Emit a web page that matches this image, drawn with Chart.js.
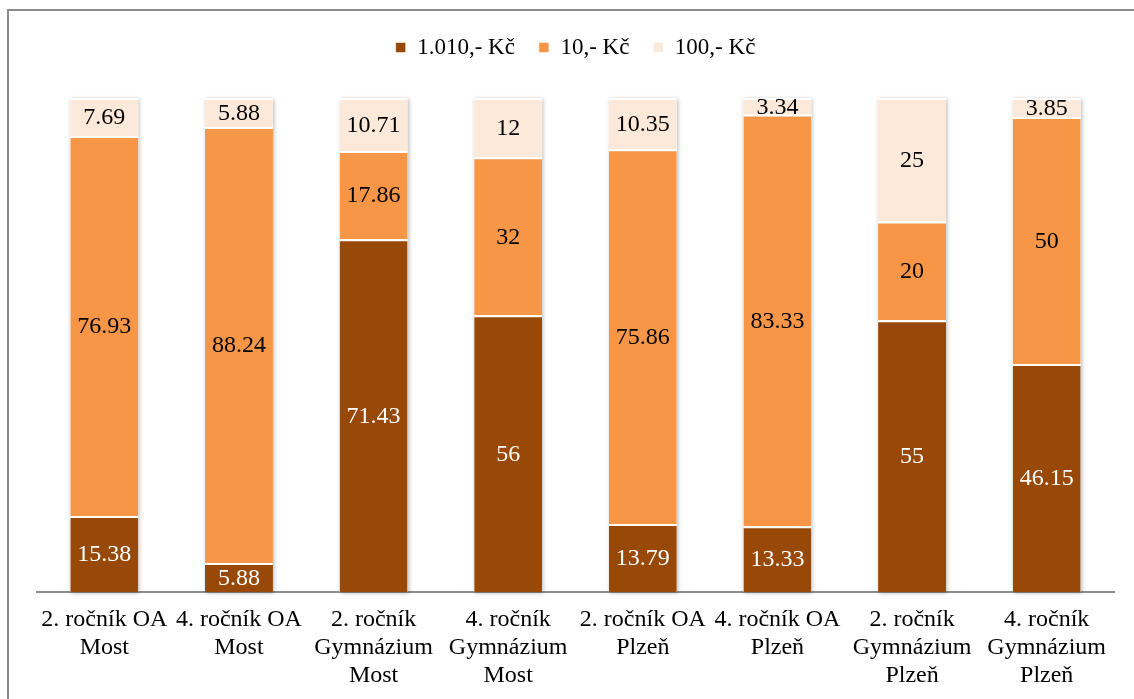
<!DOCTYPE html>
<html>
<head>
<meta charset="utf-8">
<script src="https://cdn.jsdelivr.net/npm/chart.js@4"></script>
<style>
  html, body { margin: 0; padding: 0; background: #fff; overflow: hidden; }
  #wrap { position: relative; width: 1134px; height: 699px; overflow: hidden; }
  #frame { position: absolute; left: 7px; top: 9px; width: 1300px; height: 900px;
           border: 2px solid #8a8a8a; box-sizing: border-box; pointer-events: none; }
  canvas { position: absolute; left: 0; top: 0; }
</style>
</head>
<body>
<div id="wrap">
  <div id="frame"></div>
  <canvas id="chart" width="1134" height="699"></canvas>
</div>
<script>
// School groups along the x axis
const categories = [
  ['2. ročník OA', 'Most'],
  ['4. ročník OA', 'Most'],
  ['2. ročník', 'Gymnázium', 'Most'],
  ['4. ročník', 'Gymnázium', 'Most'],
  ['2. ročník OA', 'Plzeň'],
  ['4. ročník OA', 'Plzeň'],
  ['2. ročník', 'Gymnázium', 'Plzeň'],
  ['4. ročník', 'Gymnázium', 'Plzeň']
];

// Share of answers (%) per option
const seriesNames = ['1.010,- Kč', '10,- Kč', '100,- Kč'];
const answer1010 = [15.38, 5.88, 71.43, 56, 13.79, 13.33, 55, 46.15];
const answer10   = [76.93, 88.24, 17.86, 32, 75.86, 83.33, 20, 50];
const answer100  = [7.69, 5.88, 10.71, 12, 10.35, 3.34, 25, 3.85];

const colors = ['#984807', '#F79646', '#FDE9D9'];
const labelColors = ['#ffffff', '#000000', '#000000'];
const FONT = '"Liberation Serif", "Times New Roman", serif';

// Soft shadow behind each full stacked column
const columnShadow = {
  id: 'columnShadow',
  beforeDatasetsDraw(chart) {
    const first = chart.getDatasetMeta(0).data;
    const last = chart.getDatasetMeta(chart.data.datasets.length - 1).data;
    const ctx = chart.ctx;
    ctx.save();
    ctx.shadowColor = 'rgba(0,0,0,0.28)';
    ctx.shadowBlur = 4;
    ctx.shadowOffsetX = 1;
    ctx.shadowOffsetY = 1;
    ctx.fillStyle = '#ffffff';
    first.forEach((bar, i) => {
      const top = last[i].y;
      const bottom = bar.base;
      ctx.fillRect(bar.x - bar.width / 2, top, bar.width, bottom - top);
    });
    ctx.restore();
  }
};

// Value text centred in every segment
const segmentValues = {
  id: 'segmentValues',
  afterDatasetsDraw(chart) {
    const ctx = chart.ctx;
    ctx.save();
    ctx.font = '24px ' + FONT;
    ctx.textAlign = 'center';
    ctx.textBaseline = 'middle';
    chart.data.datasets.forEach((ds, d) => {
      const meta = chart.getDatasetMeta(d);
      ctx.fillStyle = labelColors[d];
      meta.data.forEach((bar, i) => {
        const c = bar.getCenterPoint();
        ctx.fillText(String(ds.data[i]), c.x, c.y + 1);
      });
    });
    ctx.restore();
  }
};

// Fixed block height for the legend so the plot starts below it
const legendBlock = {
  id: 'legendBlock',
  beforeInit(chart) {
    const origFit = chart.legend.fit;
    chart.legend.fit = function () {
      origFit.bind(chart.legend)();
      this.height = 86;
    };
  }
};

const datasets = [answer1010, answer10, answer100].map((vals, k) => ({
  label: seriesNames[k],
  data: vals,
  backgroundColor: colors[k],
  borderColor: '#ffffff',
  borderWidth: { top: 2, bottom: 0, left: 0, right: 0 },
  borderSkipped: false,
  categoryPercentage: 1.0,
  barPercentage: 0.505
}));

new Chart(document.getElementById('chart'), {
  type: 'bar',
  data: { labels: categories, datasets },
  options: {
    responsive: false,
    animation: false,
    layout: { padding: { left: 37, right: 20, top: 12, bottom: 0 } },
    plugins: {
      legend: {
        position: 'top',
        labels: {
          font: { family: FONT, size: 23 },
          color: '#000',
          boxWidth: 10,
          boxHeight: 10,
          padding: 24
        }
      },
      tooltip: { enabled: false }
    },
    scales: {
      x: {
        stacked: true,
        grid: { display: false, drawTicks: false },
        border: { display: true, color: '#8c8c8c', width: 2 },
        ticks: {
          font: { family: FONT, size: 24, lineHeight: 1.17 },
          color: '#000',
          padding: 14,
          maxRotation: 0,
          autoSkip: false
        },
        afterFit(scale) { scale.height = 107; }
      },
      y: {
        stacked: true,
        display: false,
        min: 0,
        max: 100
      }
    }
  },
  plugins: [columnShadow, segmentValues, legendBlock]
});
</script>
</body>
</html>
